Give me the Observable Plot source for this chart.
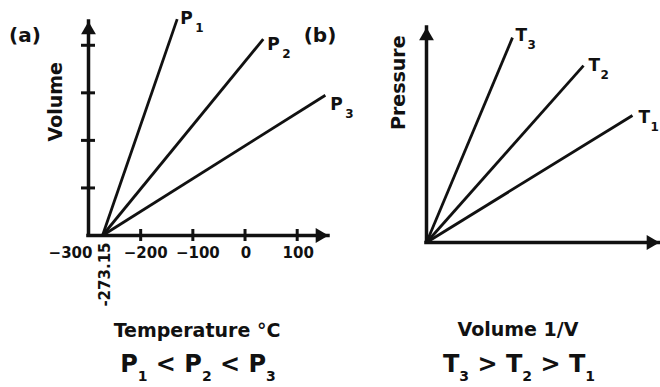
<!DOCTYPE html>
<html>
<head>
<meta charset="utf-8">
<script src="https://cdn.jsdelivr.net/npm/d3@7"></script>
<script src="https://cdn.jsdelivr.net/npm/@observablehq/plot@0.6"></script>
<style>
  html, body { margin: 0; padding: 0; background: #fff; }
  #wrap { position: relative; width: 660px; height: 387px; overflow: hidden;
          font-family: "DejaVu Sans", sans-serif; font-weight: bold; color: #111; }
  .abs { position: absolute; white-space: nowrap; text-align: center; }
  .sub { font-size: 14px; position: relative; top: 9px; }
</style>
</head>
<body>
<div id="wrap">
  <div id="pa" class="abs" style="left:0;top:0;"></div>
  <div id="pb" class="abs" style="left:340px;top:0;"></div>
  <div id="tagA" class="abs" style="left:5px;top:23px;width:40px;font-size:20px;line-height:24px;"></div>
  <div id="tagB" class="abs" style="left:300px;top:23px;width:40px;font-size:20px;line-height:24px;"></div>
  <div id="xTitleA" class="abs" style="left:77px;top:319px;width:240px;font-size:19px;line-height:22px;"></div>
  <div id="relA" class="abs" style="left:78px;top:350px;width:240px;font-size:24px;line-height:28px;"></div>
  <div id="xTitleB" class="abs" style="left:398px;top:318px;width:240px;font-size:19px;line-height:22px;"></div>
  <div id="relB" class="abs" style="left:399px;top:350px;width:240px;font-size:24px;line-height:28px;"></div>
</div>
<script>
// ---------- data ----------
const panelTags = ["(a)", "(b)"];
const absZero = -273.15;                 // °C, where all isobars meet
const pNames = ["P1", "P2", "P3"];
const pEndTemp = [-130, 35, 154];        // °C at end of each isobar
const pEndVol = [4.55, 4.13, 2.95];      // volume at end of each isobar
const xTickVals = [-200, -100, 0, 100];
const xTickLabels = [-300, -200, -100, 0, 100];
const yTickVals = [1, 2, 3, 4];

const tNames = ["T3", "T2", "T1"];
const tEndInvV = [3.69, 6.74, 8.84];     // 1/V at end of each isotherm
const tEndP = [9.53, 8.23, 5.91];        // pressure at end of each isotherm

const titlesA = {x: "Temperature \u00B0C", y: "Volume", rel: " < "};
const titlesB = {x: "Volume 1/V", y: "Pressure", rel: " > "};

// ---------- styling ----------
const ink = "#111";
const font = "DejaVu Sans";
const xDomA = [-300, 160], yDomA = [0, 4.5];
const xDomB = [0, 10], yDomB = [0, 10];
const arrowR = 5.5, arrowOff = 1.555 * arrowR;

const linesA = pNames.map((name, i) => ({name, x1: absZero, y1: 0, x2: pEndTemp[i], y2: pEndVol[i]}));
const linesB = tNames.map((name, i) => ({name, x1: 0, y1: 0, x2: tEndInvV[i], y2: tEndP[i]}));

const fmt = d => d < 0 ? "\u2212" + (-d) : String(d);
const txt = {fontFamily: font, fontWeight: "bold", fill: ink};

function seriesLabels(lines, dxs, dys, subDx, subDy) {
  const marks = [];
  lines.forEach((l, i) => {
    marks.push(Plot.text([l], {x: "x2", y: "y2", text: d => d.name[0], textAnchor: "start", lineAnchor: "top",
      dx: dxs[i], dy: dys[i], fontSize: 17, ...txt}));
    marks.push(Plot.text([l], {x: "x2", y: "y2", text: d => d.name.slice(1), textAnchor: "start", lineAnchor: "top",
      dx: dxs[i] + subDx, dy: dys[i] + subDy, fontSize: 12, ...txt}));
  });
  return marks;
}

function axesMarks(xDom, yDom) {
  return [
    Plot.ruleX([xDom[0]], {y1: () => yDom[0], y2: () => yDom[1], stroke: ink, strokeWidth: 3.5, strokeLinecap: "square"}),
    Plot.ruleY([yDom[0]], {x1: () => xDom[0], x2: () => xDom[1], stroke: ink, strokeWidth: 3.5, strokeLinecap: "square"}),
    Plot.dot([yDom[1]], {x: () => xDom[0], y: d => d, symbol: "triangle", r: arrowR, fill: ink, dy: arrowOff}),
    Plot.dot([xDom[1]], {x: d => d, y: () => yDom[0], symbol: "triangle", rotate: 90, r: arrowR, fill: ink, dx: -arrowOff})
  ];
}

// ---------- panel (a) ----------
const plotA = Plot.plot({
  width: 340, height: 312,
  marginLeft: 88, marginRight: 12, marginTop: 21, marginBottom: 77,
  x: {domain: xDomA, axis: null},
  y: {domain: yDomA, axis: null},
  style: {background: "transparent", overflow: "visible"},
  marks: [
    ...axesMarks(xDomA, yDomA),
    Plot.ruleX(xTickVals, {y1: () => 0, y2: () => 0, insetTop: -6, insetBottom: -6, stroke: ink, strokeWidth: 3}),
    Plot.ruleY(yTickVals, {x1: () => xDomA[0], x2: () => xDomA[0], insetLeft: -7, insetRight: -7, stroke: ink, strokeWidth: 3}),
    Plot.link(linesA, {x1: "x1", y1: "y1", x2: "x2", y2: "y2", stroke: ink, strokeWidth: 2.8}),
    Plot.text(xTickLabels.filter(v => v === xDomA[0]), {x: d => d, y: () => 0, text: fmt, textAnchor: "end",
      lineAnchor: "middle", dx: 4, dy: 18, fontSize: 15, ...txt}),
    Plot.text(xTickLabels.filter(v => v > xDomA[0] && v < 0), {x: d => d, y: () => 0, text: fmt,
      lineAnchor: "middle", dx: 5, dy: 18, fontSize: 15, ...txt}),
    Plot.text(xTickLabels.filter(v => v >= 0), {x: d => d, y: () => 0, text: fmt,
      lineAnchor: "middle", dx: 1, dy: 18, fontSize: 15, ...txt}),
    Plot.text([absZero], {x: d => d, y: () => 0, text: d => String(d), rotate: -90, textAnchor: "end",
      lineAnchor: "middle", dx: 3, dy: 7, fontSize: 15, ...txt}),
    Plot.text([titlesA.y], {frameAnchor: "left", rotate: -90, dx: -33, dy: 13, fontSize: 19, ...txt}),
    ...seriesLabels(linesA, [3, 4, 5], [-7, -1, 3], 15, 11)
  ]
});
document.getElementById("pa").append(plotA);

// ---------- panel (b) ----------
const plotB = Plot.plot({
  width: 320, height: 312,
  marginLeft: 86, marginRight: 1, marginTop: 27, marginBottom: 70,
  x: {domain: xDomB, axis: null},
  y: {domain: yDomB, axis: null},
  style: {background: "transparent", overflow: "visible"},
  marks: [
    ...axesMarks(xDomB, yDomB),
    Plot.link(linesB, {x1: "x1", y1: "y1", x2: "x2", y2: "y2", stroke: ink, strokeWidth: 2.8}),
    Plot.text([titlesB.y], {frameAnchor: "left", rotate: -90, dx: -28, dy: -5, fontSize: 19, ...txt}),
    ...seriesLabels(linesB, [3, 5, 6], [-9, -7, -5], 12, 12)
  ]
});
document.getElementById("pb").append(plotB);

// ---------- captions ----------
const rel = (names, op) => names.map(n => `${n[0]}<span class="sub">${n.slice(1)}</span>`).join(op.replace("<", "&lt;").replace(">", "&gt;"));
document.getElementById("tagA").textContent = panelTags[0];
document.getElementById("tagB").textContent = panelTags[1];
document.getElementById("xTitleA").textContent = titlesA.x;
document.getElementById("xTitleB").textContent = titlesB.x;
document.getElementById("relA").innerHTML = rel(pNames, titlesA.rel);
document.getElementById("relB").innerHTML = rel(tNames, titlesB.rel);
</script>
</body>
</html>
